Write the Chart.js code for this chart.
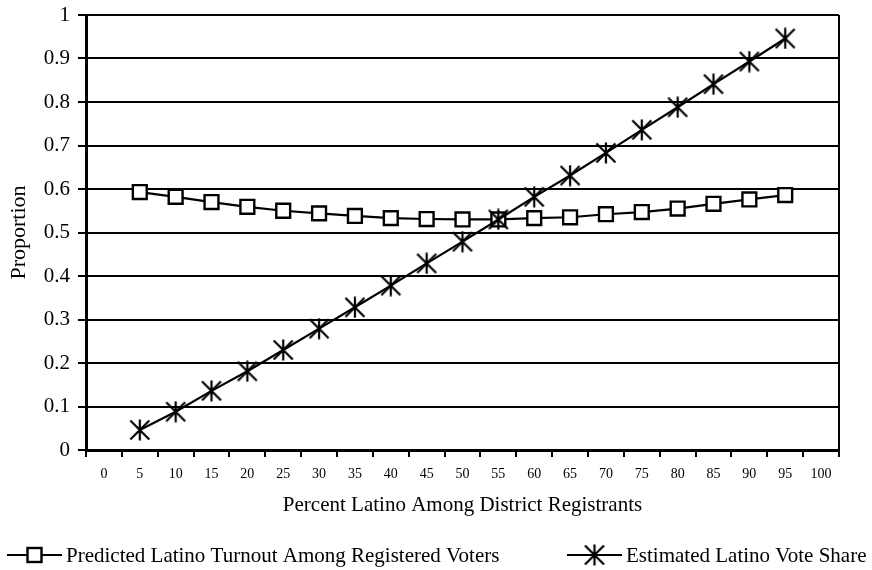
<!DOCTYPE html>
<html>
<head>
<meta charset="utf-8">
<script src="https://cdn.jsdelivr.net/npm/chart.js@4.4.1/dist/chart.umd.min.js"></script>
<style>
  html, body { margin: 0; padding: 0; background: #ffffff; }
  #wrap { width: 872px; height: 570px; }
</style>
</head>
<body>
<div id="wrap"><canvas id="chart" width="872" height="570"></canvas></div>
<script>
// Percent Latino among district registrants (x categories)
const categories = ['0', '5', '10', '15', '20', '25', '30', '35', '40', '45', '50',
                    '55', '60', '65', '70', '75', '80', '85', '90', '95', '100'];

// Predicted Latino turnout among registered voters
const turnout = [null, 0.593, 0.582, 0.570, 0.559, 0.550, 0.544, 0.538, 0.533, 0.531, 0.530,
                 0.530, 0.533, 0.535, 0.542, 0.547, 0.555, 0.566, 0.576, 0.586, null];

// Estimated Latino vote share
const voteShare = [null, 0.046, 0.088, 0.136, 0.181, 0.230, 0.279, 0.328, 0.378, 0.429, 0.479,
                   0.530, 0.582, 0.631, 0.683, 0.736, 0.788, 0.841, 0.893, 0.946, null];

const seriesNames = ['Predicted Latino Turnout Among Registered Voters', 'Estimated Latino Vote Share'];
const xTitle = 'Percent Latino Among District Registrants';
const yTitle = 'Proportion';

const SERIF = '"Liberation Serif", "Times New Roman", serif';

// Asterisk marker: an X to the corners plus a vertical bar
function makeStar(size, lw) {
  const c = document.createElement('canvas');
  c.width = size; c.height = size;
  const g = c.getContext('2d');
  const p = 1.5, q = size - 1.5, m = size / 2;
  g.strokeStyle = '#000';
  g.lineWidth = lw;
  g.beginPath();
  g.moveTo(p, p); g.lineTo(q, q);
  g.moveTo(q, p); g.lineTo(p, q);
  g.moveTo(m, 0.5); g.lineTo(m, size - 0.5);
  g.stroke();
  return c;
}
const starMarker = makeStar(22, 2.2);

// Right-hand frame of the plot area
const frameRight = {
  id: 'frameRight',
  beforeDatasetsDraw(chart) {
    const { ctx, chartArea: a } = chart;
    ctx.save();
    ctx.strokeStyle = '#000';
    ctx.lineWidth = 2;
    ctx.beginPath();
    ctx.moveTo(a.right, a.top);
    ctx.lineTo(a.right, a.bottom);
    ctx.stroke();
    ctx.restore();
  }
};

// Key below the axis title: a line segment through each series marker, then its name
const bottomKey = {
  id: 'bottomKey',
  afterDraw(chart) {
    const ctx = chart.ctx;
    const y = chart.height - 15;
    const starts = [7, 567];
    const lineLen = 55;
    ctx.save();
    ctx.font = '21px ' + SERIF;
    ctx.textBaseline = 'middle';
    ctx.textAlign = 'left';
    ctx.fillStyle = '#000';
    chart.data.datasets.forEach((ds, i) => {
      const x0 = starts[i];
      const cx = x0 + lineLen / 2;
      ctx.strokeStyle = '#000';
      ctx.lineWidth = 2;
      ctx.beginPath();
      ctx.moveTo(x0, y);
      ctx.lineTo(x0 + lineLen, y);
      ctx.stroke();
      if (ds.pointStyle === 'rect') {
        ctx.fillStyle = '#fff';
        ctx.lineWidth = 2.4;
        ctx.fillRect(cx - 7, y - 7, 14, 14);
        ctx.strokeRect(cx - 7, y - 7, 14, 14);
        ctx.fillStyle = '#000';
      } else {
        ctx.drawImage(ds.pointStyle, cx - ds.pointStyle.width / 2, y - ds.pointStyle.height / 2);
      }
      ctx.fillText(ds.label, x0 + lineLen + 4, y + 1);
    });
    ctx.restore();
  }
};

new Chart(document.getElementById('chart'), {
  type: 'line',
  data: {
    labels: categories,
    datasets: [
      {
        label: seriesNames[0],
        data: turnout,
        order: 1,
        borderColor: '#000',
        borderWidth: 2.2,
        pointStyle: 'rect',
        pointRadius: 9.8,
        pointBorderWidth: 2.4,
        pointBackgroundColor: '#fff',
        pointBorderColor: '#000',
        tension: 0
      },
      {
        label: seriesNames[1],
        data: voteShare,
        order: 0,
        borderColor: '#000',
        borderWidth: 2.2,
        pointStyle: starMarker,
        pointRadius: 11,
        tension: 0
      }
    ]
  },
  options: {
    responsive: false,
    animation: false,
    events: [],
    layout: { padding: { left: 0, right: 33, top: 15, bottom: 50 } },
    plugins: { legend: { display: false }, tooltip: { enabled: false } },
    scales: {
      x: {
        type: 'category',
        offset: true,
        grid: {
          display: true,
          offset: true,
          drawOnChartArea: false,
          drawTicks: true,
          tickLength: 7,
          color: '#000',
          lineWidth: 2
        },
        border: { display: true, color: '#000', width: 3 },
        ticks: {
          color: '#000',
          font: { family: SERIF, size: 14 },
          padding: 9,
          maxRotation: 0,
          autoSkip: false
        },
        title: {
          display: true,
          text: xTitle,
          color: '#000',
          font: { family: SERIF, size: 21 },
          padding: { top: 0, bottom: 2 }
        },
        afterFit(scale) { scale.height = 70; scale.paddingLeft = 0; scale.paddingRight = 0; }
      },
      y: {
        min: 0,
        max: 1,
        ticks: {
          stepSize: 0.1,
          color: '#000',
          font: { family: SERIF, size: 21 },
          padding: 8,
          callback: (v) => String(Number(v.toFixed(1)))
        },
        grid: {
          color: '#000',
          lineWidth: 2,
          drawTicks: true,
          tickLength: 8
        },
        border: { display: true, color: '#000', width: 3 },
        title: {
          display: true,
          text: yTitle,
          color: '#000',
          font: { family: SERIF, size: 22 },
          padding: { top: 6, bottom: 0 }
        },
        afterFit(scale) { scale.width = 86; scale.paddingTop = 0; scale.paddingBottom = 0; }
      }
    }
  },
  plugins: [frameRight, bottomKey]
});
</script>
</body>
</html>
